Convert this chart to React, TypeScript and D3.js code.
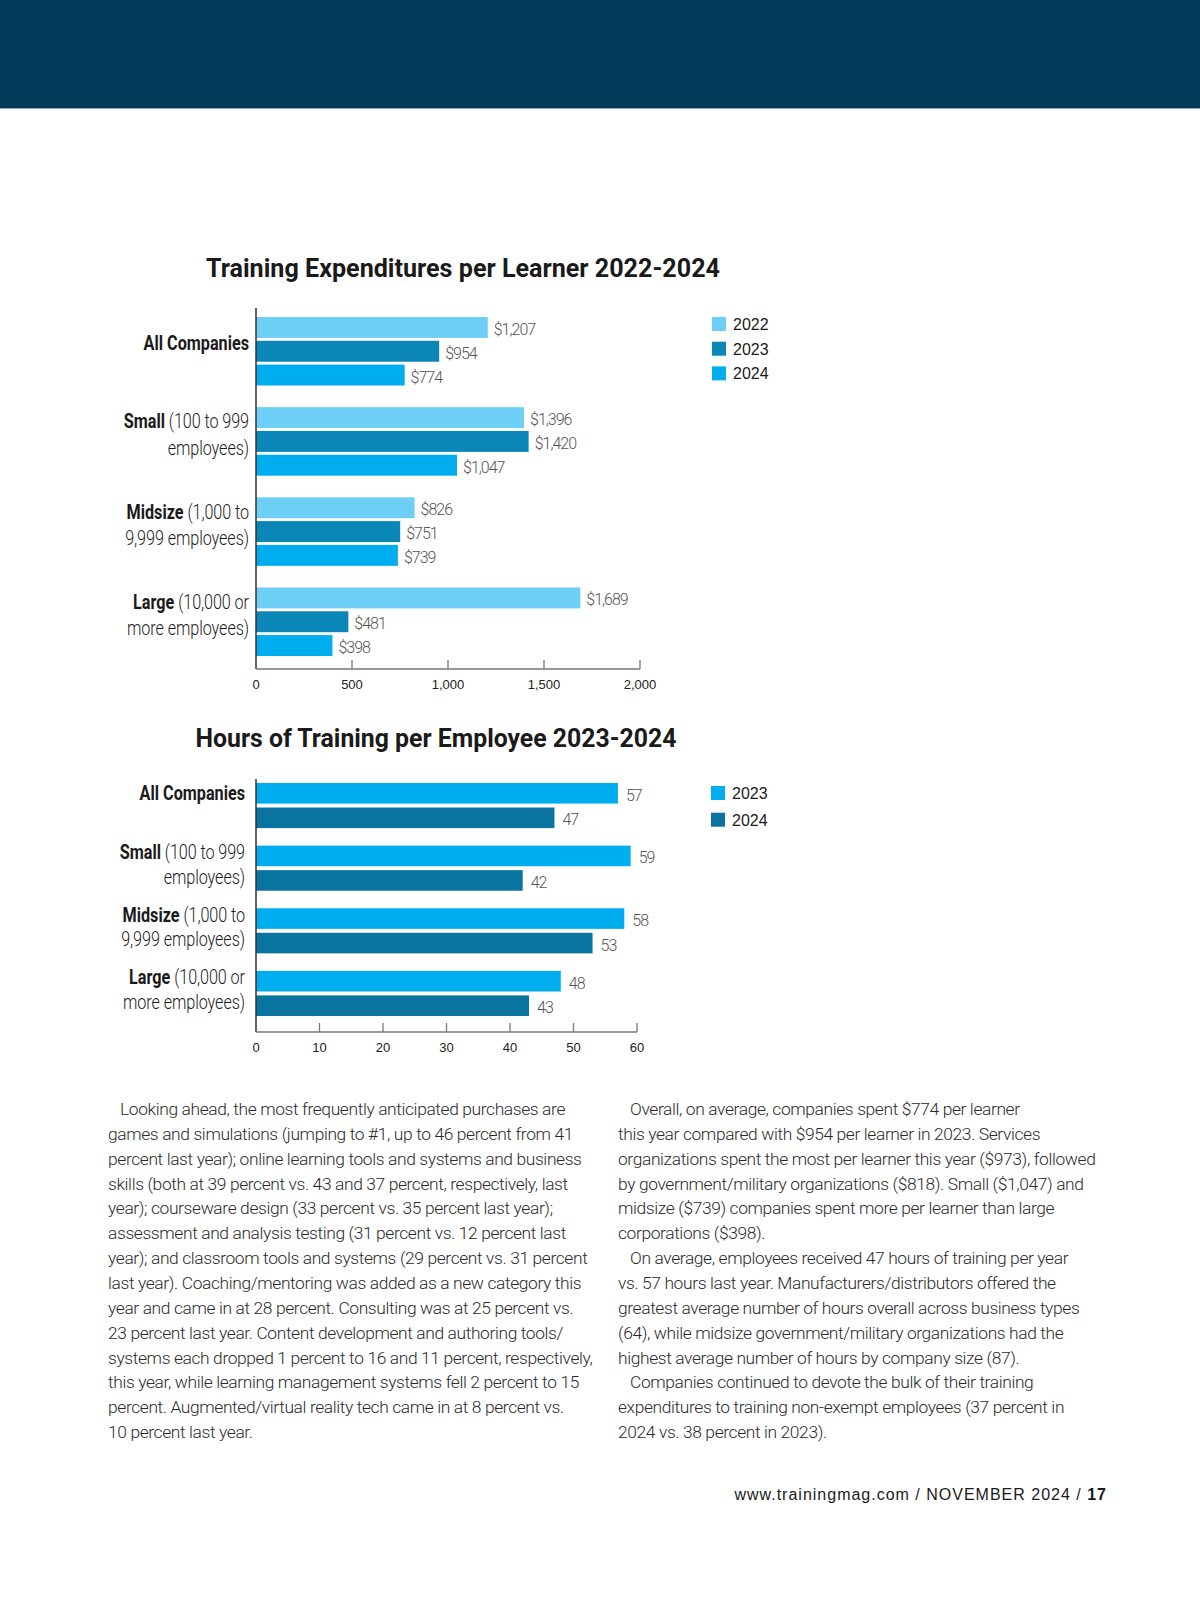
import * as d3 from 'd3';

const W = 1200;
const H = 1613;

// category labels (bold name, light note, second line)
const categories = ['All Companies', 'Small', 'Midsize', 'Large'];
const categoryNotes = ['', ' (100 to 999', ' (1,000 to', ' (10,000 or'];
const categorySecondLines = ['', 'employees)', '9,999 employees)', 'more employees)'];

// chart 1: training expenditures per learner
const expenditureYears = ['2022', '2023', '2024'];
const expenditure2022 = [1207, 1396, 826, 1689];
const expenditure2023 = [954, 1420, 751, 481];
const expenditure2024 = [774, 1047, 739, 398];
const expenditureTicks = [0, 500, 1000, 1500, 2000];

// chart 2: hours of training per employee
const hoursYears = ['2023', '2024'];
const hours2023 = [57, 59, 58, 48];
const hours2024 = [47, 42, 53, 43];
const hoursTicks = [0, 10, 20, 30, 40, 50, 60];

const leftColumn = [
  '\tLooking ahead, the most frequently anticipated purchases are',
  'games and simulations (jumping to #1, up to 46 percent from 41',
  'percent last year); online learning tools and systems and business',
  'skills (both at 39 percent vs. 43 and 37 percent, respectively, last',
  'year); courseware design (33 percent vs. 35 percent last year);',
  'assessment and analysis testing (31 percent vs. 12 percent last',
  'year); and classroom tools and systems (29 percent vs. 31 percent',
  'last year). Coaching/mentoring was added as a new category this',
  'year and came in at 28 percent. Consulting was at 25 percent vs.',
  '23 percent last year. Content development and authoring tools/',
  'systems each dropped 1 percent to 16 and 11 percent, respectively,',
  'this year, while learning management systems fell 2 percent to 15',
  'percent. Augmented/virtual reality tech came in at 8 percent vs.',
  '10 percent last year.',
];

const rightColumn = [
  '\tOverall, on average, companies spent $774 per learner',
  'this year compared with $954 per learner in 2023. Services',
  'organizations spent the most per learner this year ($973), followed',
  'by government/military organizations ($818). Small ($1,047) and',
  'midsize ($739) companies spent more per learner than large',
  'corporations ($398).',
  '\tOn average, employees received 47 hours of training per year',
  'vs. 57 hours last year. Manufacturers/distributors offered the',
  'greatest average number of hours overall across business types',
  '(64), while midsize government/military organizations had the',
  'highest average number of hours by company size (87).',
  '\tCompanies continued to devote the bulk of their training',
  'expenditures to training non-exempt employees (37 percent in',
  '2024 vs. 38 percent in 2023).',
];

interface Series {
  year: string;
  values: number[];
  color: string;
}

interface PanelProps {
  title: string;
  titleX: number;
  titleY: number;
  titleWidth: number;
  series: Series[];
  ticks: number[];
  xRange: [number, number];
  groupRange: [number, number];
  groupPadding: number;
  barPadding: number;
  axisTop: number;
  axisY: number;
  labelRight: number;
  offsets: {single: number; l1: number; l2: number};
  valueGap: number;
  format: (v: number) => string;
  legend: {x: number; y: number; pitch: number};
}

function BarPanel(p: PanelProps) {
  const x = d3
    .scaleLinear()
    .domain([0, d3.max(p.ticks) as number])
    .range(p.xRange);
  const yGroup = d3
    .scaleBand<string>()
    .domain(categories)
    .range(p.groupRange)
    .paddingInner(p.groupPadding)
    .paddingOuter(0);
  const yBar = d3
    .scaleBand<string>()
    .domain(p.series.map((s) => s.year))
    .range([0, yGroup.bandwidth()])
    .paddingInner(p.barPadding);
  const tickFmt = d3.format(',');

  return (
    <g>
      <text
        x={p.titleX}
        y={p.titleY}
        textAnchor="middle"
        fontFamily="Roboto, 'Liberation Sans', sans-serif"
        fontWeight={700}
        fontSize={26}
        fill="#1a1a1a"
        textLength={p.titleWidth}
        lengthAdjust="spacingAndGlyphs"
      >
        {p.title}
      </text>

      {/* bars */}
      {categories.map((c, i) => (
        <g key={c} transform={`translate(0,${yGroup(c)})`}>
          {p.series.map((s) => {
            const v = s.values[i];
            const by = yBar(s.year) as number;
            return (
              <g key={s.year}>
                <rect
                  x={x(0)}
                  y={by}
                  width={x(v) - x(0)}
                  height={yBar.bandwidth()}
                  fill={s.color}
                />
                <text
                  x={x(v) + p.valueGap}
                  y={by + yBar.bandwidth() / 2 + 7.5}
                  fontFamily="Roboto, 'Liberation Sans', sans-serif"
                  fontWeight={300}
                  fontSize={16}
                  letterSpacing={-1}
                  fill="#555"
                >
                  {p.format(v)}
                </text>
              </g>
            );
          })}
        </g>
      ))}

      {/* axes */}
      <line x1={x(0)} x2={x(0)} y1={p.axisTop} y2={p.axisY} stroke="#333" strokeWidth={1.5} />
      <line
        x1={x(0)}
        x2={x(d3.max(p.ticks) as number)}
        y1={p.axisY}
        y2={p.axisY}
        stroke="#777"
        strokeWidth={1.3}
      />
      {p.ticks.map((t) => (
        <g key={t}>
          {t !== 0 && (
            <line x1={x(t)} x2={x(t)} y1={p.axisY - 9} y2={p.axisY} stroke="#777" strokeWidth={1.3} />
          )}
          <text
            x={x(t)}
            y={p.axisY + 20}
            textAnchor="middle"
            fontFamily="'Liberation Sans', Arial, sans-serif"
            fontSize={13}
            fill="#222"
          >
            {tickFmt(t)}
          </text>
        </g>
      ))}

      {/* category labels, condensed */}
      <g
        transform={`translate(${p.labelRight},0) scale(0.81,1)`}
        fontFamily="Roboto, 'Liberation Sans', sans-serif"
        fontSize={20}
        fill="#1a1a1a"
        style={{whiteSpace: 'pre'}}
      >
        {categories.map((c, i) => {
          const cy = (yGroup(c) as number) + yGroup.bandwidth() / 2;
          const two = categorySecondLines[i] !== '';
          return (
            <g key={c}>
              <text x={0} y={cy + (two ? p.offsets.l1 : p.offsets.single) + 7} textAnchor="end">
                <tspan fontWeight={700}>{c}</tspan>
                <tspan fontWeight={300} letterSpacing={-0.1}>
                  {categoryNotes[i]}
                </tspan>
              </text>
              {two && (
                <text
                  x={0}
                  y={cy + p.offsets.l2 + 7}
                  textAnchor="end"
                  fontWeight={300}
                  letterSpacing={-0.1}
                >
                  {categorySecondLines[i]}
                </text>
              )}
            </g>
          );
        })}
      </g>

      {/* legend */}
      {p.series.map((s, i) => (
        <g key={s.year} transform={`translate(${p.legend.x},${p.legend.y + i * p.legend.pitch})`}>
          <rect width={14} height={14} fill={s.color} />
          <text
            x={21}
            y={13}
            fontFamily="'Liberation Sans', Arial, sans-serif"
            fontSize={16}
            fill="#1a1a1a"
          >
            {s.year}
          </text>
        </g>
      ))}
    </g>
  );
}

function Column({lines, x, y}: {lines: string[]; x: number; y: number}) {
  return (
    <g
      fontFamily="Roboto, 'Liberation Sans', sans-serif"
      fontWeight={300}
      fontSize={17.4}
      letterSpacing={-0.38}
      fill="#2a2a2a"
    >
      {lines.map((l, i) => {
        const indent = l.startsWith('\t');
        return (
          <text key={i} x={x + (indent ? 12 : 0)} y={y + i * 24.85}>
            {indent ? l.slice(1) : l}
          </text>
        );
      })}
    </g>
  );
}

export default function App() {
  const money = (v: number) => '$' + d3.format(',')(v);
  return (
    <svg
      width={W}
      height={H}
      viewBox={`0 0 ${W} ${H}`}
      style={{position: 'absolute', left: 0, top: 0, display: 'block', background: '#fff'}}
    >
      <rect x={0} y={0} width={W} height={108} fill="#033959" />
      <line x1={0} x2={W} y1={108.5} y2={108.5} stroke="#8aaabb" strokeWidth={1.2} />

      <BarPanel
        title="Training Expenditures per Learner 2022-2024"
        titleX={463}
        titleY={277}
        titleWidth={514}
        series={[
          {year: expenditureYears[0], values: expenditure2022, color: '#6dcff6'},
          {year: expenditureYears[1], values: expenditure2023, color: '#0a86b7'},
          {year: expenditureYears[2], values: expenditure2024, color: '#00aeef'},
        ]}
        ticks={expenditureTicks}
        xRange={[256, 640]}
        groupRange={[317, 656]}
        groupPadding={0.24}
        barPadding={0.12}
        axisTop={308}
        axisY={669}
        labelRight={249}
        offsets={{single: -8, l1: -20, l2: 6.5}}
        valueGap={6}
        format={money}
        legend={{x: 712, y: 317, pitch: 24.7}}
      />

      <BarPanel
        title="Hours of Training per Employee 2023-2024"
        titleX={436}
        titleY={747}
        titleWidth={481}
        series={[
          {year: hoursYears[0], values: hours2023, color: '#00aeef'},
          {year: hoursYears[1], values: hours2024, color: '#0a74a0'},
        ]}
        ticks={hoursTicks}
        xRange={[256, 637]}
        groupRange={[783, 1016]}
        groupPadding={0.28}
        barPadding={0.16}
        axisTop={779}
        axisY={1032}
        labelRight={245}
        offsets={{single: -13, l1: -16, l2: 8.5}}
        valueGap={8}
        format={(v) => String(v)}
        legend={{x: 711, y: 786, pitch: 26.7}}
      />

      <Column lines={leftColumn} x={108} y={1115} />
      <Column lines={rightColumn} x={618} y={1115} />

      <text
        x={1107}
        y={1500}
        textAnchor="end"
        fontFamily="'Liberation Sans', Arial, sans-serif"
        fontSize={16}
        letterSpacing={1}
        fill="#1a1a1a"
      >
        www.trainingmag.com / NOVEMBER 2024 / <tspan fontWeight={700}>17</tspan>
      </text>
    </svg>
  );
}
